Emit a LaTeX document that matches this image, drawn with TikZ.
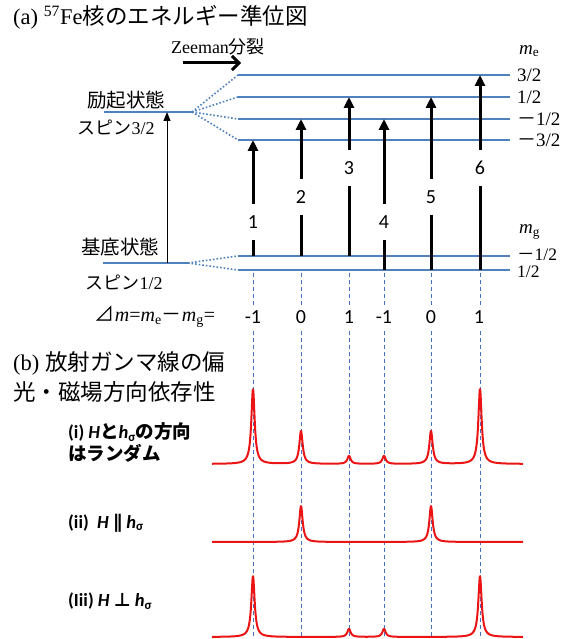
\documentclass[tikz,border=0pt]{standalone}
\usepackage{fontspec}
\setmainfont{Liberation Serif}
\newfontfamily\jp{Noto Sans CJK JP}
\newfontfamily\calib{Carlito}
\newfontfamily\djv{DejaVu Sans}
\usetikzlibrary{arrows.meta}
\definecolor{lvl}{RGB}{79,129,189}
\definecolor{gd}{RGB}{70,114,196}
\definecolor{spc}{RGB}{235,20,20}
\begin{document}
\begin{tikzpicture}[x=1pt,y=-1pt,
  level/.style={draw=lvl, line width=2pt},
  fan/.style={draw=lvl, line width=1.6pt, dotted},
  guide/.style={draw=gd, line width=0.9pt, dash pattern=on 4pt off 3pt},
  trans/.style={line width=3pt, -{Triangle[width=10pt,length=11pt]}},
  tlabel/.style={fill=white, font=\calib\fontsize{20}{20}\selectfont, inner sep=0pt, minimum height=36pt, minimum width=14pt},
  spec/.style={draw=spc, line width=2pt, line join=round},
  txt/.style={inner sep=0pt},
  jpt/.style={txt, font=\jp\fontsize{19.5}{22}\selectfont},
  spt/.style={txt, font=\jp\fontsize{18}{22}\selectfont},
  big/.style={txt, anchor=west, font=\fontsize{22.5}{26}\selectfont},
  rlab/.style={txt, anchor=west, font=\fontsize{19}{22}\selectfont},
  glab/.style={txt, anchor=west, font=\fontsize{17.5}{20}\selectfont},
  vlab/.style={txt, font=\calib\fontsize{20}{22}\selectfont},
  slab/.style={txt, anchor=west, font=\calib\bfseries\fontsize{18.5}{22}\selectfont},
  declare function={lor(\xa,\xc)=1/(1+(min(abs(\xa-\xc),100)/2)^2);}
]
\useasboundingbox (0,0) rectangle (571,639);

% ---------- titles ----------
\node[big] (ta) at (13,17) {(a) \textsuperscript{57}Fe{\jp 核のエネルギー準位図}};
\node[txt, font=\rmfamily\fontsize{18}{20}\selectfont] (zee) at (218,47) {Zeeman{\jp 分裂}};
\coordinate (za) at (183,63);
\coordinate (zb) at (241,63);
\draw[line width=3pt, -{Straight Barb[length=7pt,width=14pt]}] (za) -- (zb);

% ---------- unsplit levels ----------
\coordinate (ex0a) at (104,112);
\coordinate (ex0b) at (192,112);
\coordinate (gr0a) at (103,263);
\coordinate (gr0b) at (188,263);
\draw[level] (ex0a) -- (ex0b);
\draw[level] (gr0a) -- (gr0b);
\node[jpt] (exc) at (126,100) {励起状態};
\node[spt] (sp32) at (116,127) {スピン{\rmfamily 3/2}};
\node[jpt] (gnd) at (120,247) {基底状態};
\node[spt] (sp12) at (124,282) {スピン{\rmfamily 1/2}};
\coordinate (va) at (167,263);
\coordinate (vb) at (167,112);
\draw[line width=1pt, -{Triangle[width=7pt,length=9pt]}] (va) -- (vb);

% ---------- split levels ----------
\foreach \n/\y/\t in {e1/75/{3/2}, e2/97/{1/2}, e3/119/{{\jp －}1/2}, e4/140/{{\jp －}3/2}}{
  \coordinate (\n a) at (238,\y);
  \coordinate (\n b) at (510,\y);
  \draw[level] (\n a) -- (\n b);
  \node[rlab] (\n l) at (517,\y) {\t};
}
\foreach \n/\y/\yl/\t in {g1/256/255/{{\jp －}1/2}, g2/270/272/{1/2}}{
  \coordinate (\n a) at (238,\y);
  \coordinate (\n b) at (510,\y);
  \draw[level] (\n a) -- (\n b);
  \node[glab] (\n l) at (517,\yl) {\t};
}
\foreach \n in {e1,e2,e3,e4} \draw[fan] (ex0b) -- (\n a);
\foreach \n in {g1,g2} \draw[fan] (gr0b) -- (\n a);
\node[rlab] (me) at (519,51) {\textit{m}\textsubscript{e}};
\node[rlab] (mg) at (519,232) {\textit{m}\textsubscript{g}};

% ---------- guides (dashed) ----------
\foreach \i/\x in {1/253,2/301,3/349,4/384,5/431,6/480}{
  \coordinate (ga\i) at (\x,273);
  \coordinate (gb\i) at (\x,305);
  \coordinate (gc\i) at (\x,331);
  \coordinate (gd\i) at (\x,639);
  \draw[guide] (ga\i) -- (gb\i);
  \draw[guide] (gc\i) -- (gd\i);
}

% ---------- transitions ----------
\foreach \i/\x/\yb/\yt/\yl in {1/253/256/140/222, 2/301/256/119/197, 3/349/256/97/168,
                               4/384/270/119/222, 5/431/270/97/197, 6/480/270/75/168}{
  \coordinate (tb\i) at (\x,\yb);
  \coordinate (tt\i) at (\x,\yt);
  \draw[trans] (tb\i) -- (tt\i);
  \node[tlabel] (tl\i) at (\x,\yl) {\i};
}

% ---------- delta m row ----------
\node[txt, font=\fontsize{20}{22}\selectfont] (dm) at (155,317)
  {{\jp ⊿}\textit{m}=\textit{m}\textsubscript{e}{\jp －}\textit{m}\textsubscript{g}=};
\foreach \i/\x/\v in {1/253/-1,2/301/0,3/349/1,4/384/-1,5/431/0,6/479/1}
  \node[vlab] (v\i) at (\x,317) {\v};

% ---------- part (b) ----------
\node[big] (tb1) at (13,363) {(b) {\jp 放射ガンマ線の偏}};
\node[big] (tb2) at (13,392) {\jp 光・磁場方向依存性};
\node[slab] (s1a) at (68,432) {(i) \textit{H}{\jp\bfseries と}\textit{h}\textsubscript{σ}{\jp\bfseries の方向}};
\node[slab] (s1b) at (68,453) {\jp\bfseries はランダム};
\node[slab] (s2) at (68,523) {(ii)\ \ \textit{H} {\djv\bfseries ∥} \textit{h}\textsubscript{σ}};
\node[slab] (s3) at (68,601) {(Iii) \textit{H} {\djv\bfseries ⊥} \textit{h}\textsubscript{σ}};

% ---------- spectra ----------
\draw[spec] plot[domain=212:523, samples=900]
  (\x, {464-75*lor(\x,253)-33*lor(\x,301)-8*lor(\x,349)-8*lor(\x,384)-33*lor(\x,431)-75*lor(\x,480)});
\draw[spec] plot[domain=212:523, samples=900]
  (\x, {542-36*lor(\x,301)-36*lor(\x,431)});
\draw[spec] plot[domain=212:523, samples=900]
  (\x, {637-61*lor(\x,253)-8*lor(\x,349)-8*lor(\x,384)-61*lor(\x,480)});
\end{tikzpicture}
\end{document}
